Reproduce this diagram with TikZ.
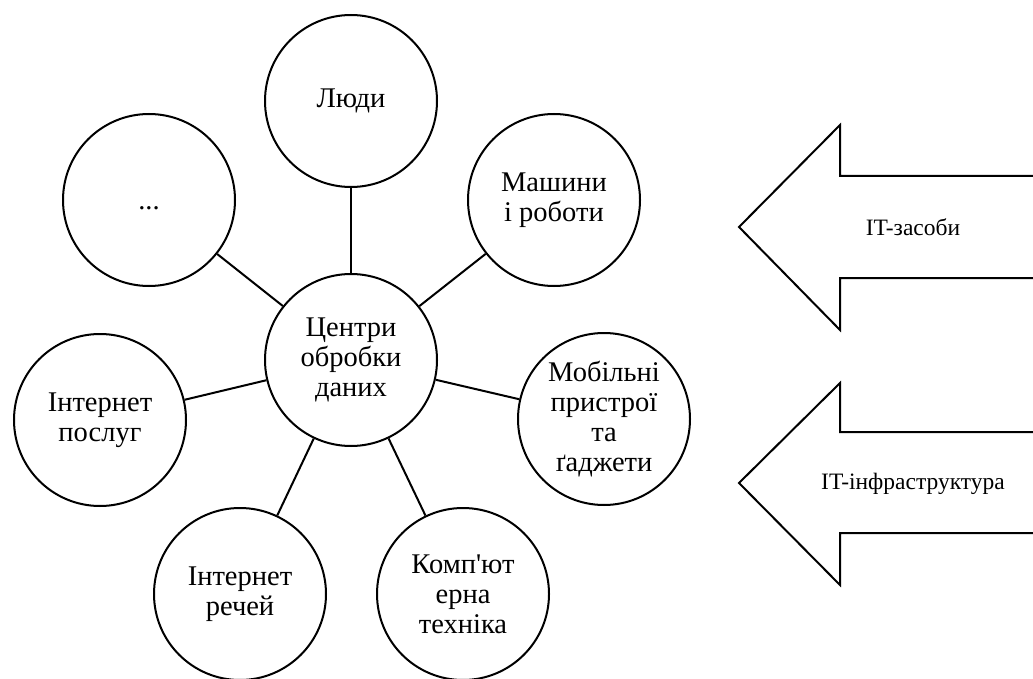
\documentclass[tikz,border=0pt]{standalone}
\usepackage{fontspec}
\setmainfont{Liberation Serif}
\begin{document}
\begin{tikzpicture}[x=1pt,y=-1pt,
  bubble/.style={circle,draw,line width=2pt,minimum size=172pt,inner sep=0pt,
    align=center,font=\fontsize{28.5}{30}\selectfont},
  link/.style={line width=2pt},
  blockarrow/.style={line width=2pt,line join=miter},
  arrowtext/.style={font=\fontsize{23.5}{26}\selectfont}]
\useasboundingbox (0,0) rectangle (1033,679);

% hub and the surrounding bubbles
\node[bubble] (hub) at (351,360) {Центри\\обробки\\даних};
\node[bubble] (people) at (351,101) {Люди};
\node[bubble] (machines) at (554,200) {Машини\\і роботи};
\node[bubble] (mobile) at (604,419) {Мобільні\\пристрої\\та\\ґаджети};
\node[bubble] (computers) at (463,594) {Комп\textquotesingle ют\\ерна\\техніка};
\node[bubble] (iot) at (240,594) {Інтернет\\речей};
\node[bubble] (ios) at (100,420) {Інтернет\\послуг};
\node[bubble] (more) at (149,200) {\vphantom{Л}...};

\foreach \n in {people,machines,mobile,computers,iot,ios,more}
  \draw[link] (hub) -- (\n);

% left-pointing block arrows, open at the right edge
\draw[blockarrow] (1036,176) -- (840,176) -- (840,125) -- (739,227)
  -- (840,330) -- (840,278) -- (1036,278);
\node[arrowtext] (tools) at (913,227) {IT-засоби};

\draw[blockarrow] (1036,432) -- (840,432) -- (840,383) -- (739,483)
  -- (840,585) -- (840,533) -- (1036,533);
\node[arrowtext] (infra) at (913,484) {IT-інфраструктура};
\end{tikzpicture}
\end{document}
